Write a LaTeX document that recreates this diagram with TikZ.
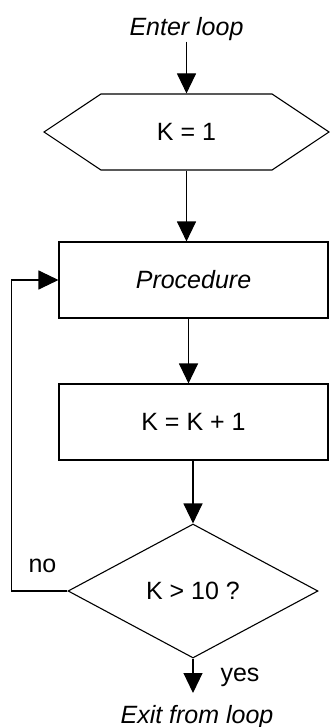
\documentclass[tikz,border=0pt]{standalone}
\usepackage{fontspec}
\setmainfont{Liberation Sans}
\usetikzlibrary{arrows.meta,shapes.geometric,shapes.symbols}
\begin{document}
\begin{tikzpicture}[x=1pt,y=-1pt,
  line width=1.1pt,
  flow/.style={-{Triangle[length=20pt,width=19pt]}},
  txt/.style={font=\fontsize{25}{30}\selectfont, inner sep=0pt},
  procbox/.style={draw, rectangle, minimum width=269pt, minimum height=76pt, txt},
  initbox/.style={draw, signal, signal to=west and east, signal pointer angle=67.4,
                  minimum width=285pt, minimum height=76pt, txt},
  testbox/.style={draw, diamond, minimum width=250pt, minimum height=134pt, txt},
]
\useasboundingbox (0,0) rectangle (330,727);

% loop entry and initialisation
\node[txt, anchor=base] (enter) at (186.5,36) {\itshape Enter loop};
\node[initbox] (init) at (186.5,132) {K = 1};

% loop body
\node[procbox] (proc) at (193.5,280) {\itshape Procedure};
\node[procbox] (inc)  at (193.5,422) {K = K + 1};

% termination test
\node[testbox] (test) at (193,591) {K > 10 ?};

% loop exit
\coordinate (out) at (193,693);
\node[txt, anchor=base] (exit) at (197,723) {\itshape Exit from loop};

% branch labels
\node[txt, anchor=base west] (no)  at (28,572)  {no};
\node[txt, anchor=base west] (yes) at (220,681) {yes};

% connectors
\draw[flow] (enter.south) -- (init.north);
\draw[flow] (init.south) -- (init.south |- proc.north);
\draw[flow] ([xshift=-5pt]proc.south) -- ([xshift=-5pt]inc.north);
\draw[flow] (test.north |- inc.south) -- (test.north);
\draw[flow] (test.south) -- (out);
\draw[flow] (test.west) -- ++(-56,0) |- (proc.west);
\end{tikzpicture}
\end{document}
